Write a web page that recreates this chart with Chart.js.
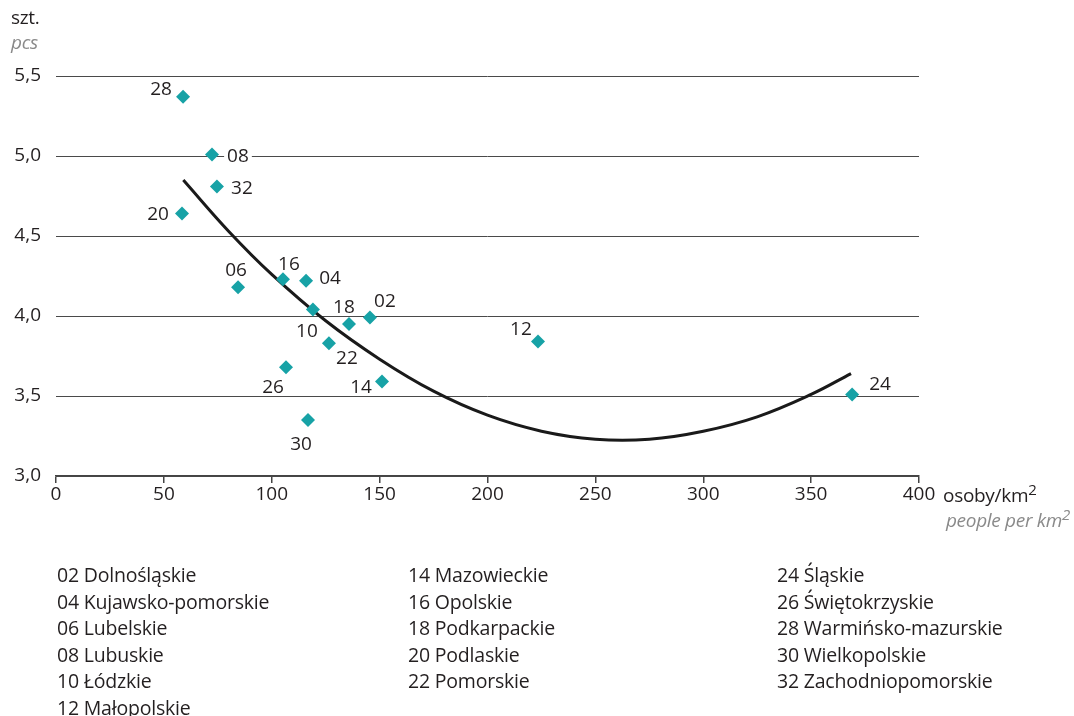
<!DOCTYPE html>
<html>
<head>
<meta charset="utf-8">
<script src="https://cdn.jsdelivr.net/npm/chart.js@4.4.1/dist/chart.umd.min.js"></script>
<style>
  body { margin: 0; background: #fff; font-family: "Open Sans", sans-serif; color: #231f20; }
  #wrap { position: relative; width: 1074px; height: 716px; overflow: hidden; }
  canvas { position: absolute; left: 0; top: 0; }
  .txt { position: absolute; font-size: 19px; white-space: nowrap; letter-spacing: -0.3px; }
  .it { font-style: italic; color: #8a8a8a; }
  .col { position: absolute; top: 562px; font-size: 19.5px; line-height: 26.5px; white-space: nowrap; letter-spacing: -0.2px; }
  sup { font-size: 15px; vertical-align: 7px; line-height: 0; }
</style>
</head>
<body>
<div id="wrap">
  <canvas id="c" width="1074" height="716"></canvas>
  <div class="txt" style="left:11px; top:4px;">szt.</div>
  <div class="txt it" style="left:11px; top:29px;">pcs</div>
  <div class="txt" style="left:943px; top:482px;">osoby/km<sup>2</sup></div>
  <div class="txt it" style="right:4px; top:507px;">people per km<sup>2</sup></div>
  <div class="col" id="col1" style="left:57px;"></div>
  <div class="col" id="col2" style="left:408px;"></div>
  <div class="col" id="col3" style="left:777px;"></div>
</div>
<script>
// region codes, population density and values
var codes = ['28', '08', '32', '20', '06', '16', '04', '10', '18', '02', '22', '26', '14', '30', '12', '24'];
var density = [58.9, 72.3, 74.6, 58.4, 84.4, 105.2, 115.9, 119.1, 135.8, 145.5, 126.5, 106.6, 151.1, 116.8, 223.4, 369.0];
var pcs = [5.37, 5.01, 4.81, 4.64, 4.18, 4.23, 4.22, 4.04, 3.95, 3.99, 3.83, 3.68, 3.59, 3.35, 3.84, 3.51];

// trend curve
var trendX = [59, 80, 100, 125, 150, 175, 200, 225, 250, 275, 300, 325, 350, 368.5];
var trendY = [4.85, 4.53, 4.26, 3.97, 3.73, 3.53, 3.38, 3.28, 3.23, 3.23, 3.28, 3.37, 3.51, 3.64];

var yTicks = [3.0, 3.5, 4.0, 4.5, 5.0, 5.5];

var legendCols = [
    ['02 Dolnośląskie', '04 Kujawsko-pomorskie', '06 Lubelskie', '08 Lubuskie', '10 Łódzkie', '12 Małopolskie'],
    ['14 Mazowieckie', '16 Opolskie', '18 Podkarpackie', '20 Podlaskie', '22 Pomorskie'],
    ['24 Śląskie', '26 Świętokrzyskie', '28 Warmińsko-mazurskie', '30 Wielkopolskie', '32 Zachodniopomorskie']
];

// label offsets from the marker (px)
var labelOffsets = [[-22, -8], [26, 1], [25, 1], [-24, 0], [-2, -18], [6, -16], [24, -3], [-6, 21],
    [-5, -17], [15, -17], [18, 14], [-13, 19], [-21, 5], [-7, 24], [-17, -13], [28, -11]];

legendCols.forEach(function(col, i) {
    document.getElementById('col' + (i + 1)).innerHTML = col.join('<br>');
});

var points = density.map(function(d, i) { return {x: d, y: pcs[i]}; });
var trend = trendX.map(function(d, i) { return {x: d, y: trendY[i]}; });

var labelPlugin = {
    id: 'pointLabels',
    beforeDatasetsDraw: function(chart) {
        var ctx = chart.ctx;
        var meta = chart.getDatasetMeta(0);
        ctx.save();
        ctx.font = '19px "Open Sans", sans-serif';
        ctx.textAlign = 'center';
        ctx.textBaseline = 'middle';
        meta.data.forEach(function(el, i) {
            var x = el.x + labelOffsets[i][0];
            var y = el.y + labelOffsets[i][1];
            var w = ctx.measureText(codes[i]).width;
            ctx.fillStyle = '#fff';
            ctx.fillRect(x - w / 2 - 3, y - 9, w + 6, 18);
            ctx.fillStyle = '#231f20';
            ctx.fillText(codes[i], x, y + 1);
        });
        ctx.restore();
    }
};

new Chart(document.getElementById('c'), {
    type: 'scatter',
    data: {
        datasets: [{
            data: points,
            pointStyle: 'rectRot',
            pointRadius: 7,
            pointHoverRadius: 7,
            backgroundColor: '#17a2a6',
            borderColor: '#17a2a6',
            borderWidth: 0
        }, {
            type: 'line',
            data: trend,
            showLine: true,
            pointRadius: 0,
            borderColor: '#1a1a1a',
            borderWidth: 3,
            tension: 0.4,
            fill: false
        }]
    },
    options: {
        responsive: false,
        animation: false,
        events: [],
        layout: { padding: { left: 0, top: 76, right: 155, bottom: 0 } },
        plugins: { legend: { display: false }, tooltip: { enabled: false } },
        scales: {
            x: {
                type: 'linear',
                min: 0, max: 400,
                afterFit: function(s) { s.height = 240; },
                border: { color: '#444', width: 1.5 },
                grid: { drawOnChartArea: false, drawTicks: true, tickLength: 7, color: '#444', lineWidth: 1.5 },
                ticks: { stepSize: 50, padding: 0, color: '#231f20', font: { family: 'Open Sans', size: 19 } }
            },
            y: {
                min: 3, max: 5.5,
                afterFit: function(s) { s.width = 56; },
                afterBuildTicks: function(s) { s.ticks = yTicks.map(function(v) { return {value: v}; }); },
                border: { display: false },
                grid: { color: '#4a4a4a', lineWidth: 1, drawTicks: false },
                ticks: {
                    padding: 15,
                    color: '#231f20',
                    font: { family: 'Open Sans', size: 19 },
                    callback: function(v) { return v.toFixed(1).replace('.', ','); }
                }
            }
        }
    },
    plugins: [labelPlugin]
});
</script>
</body>
</html>
